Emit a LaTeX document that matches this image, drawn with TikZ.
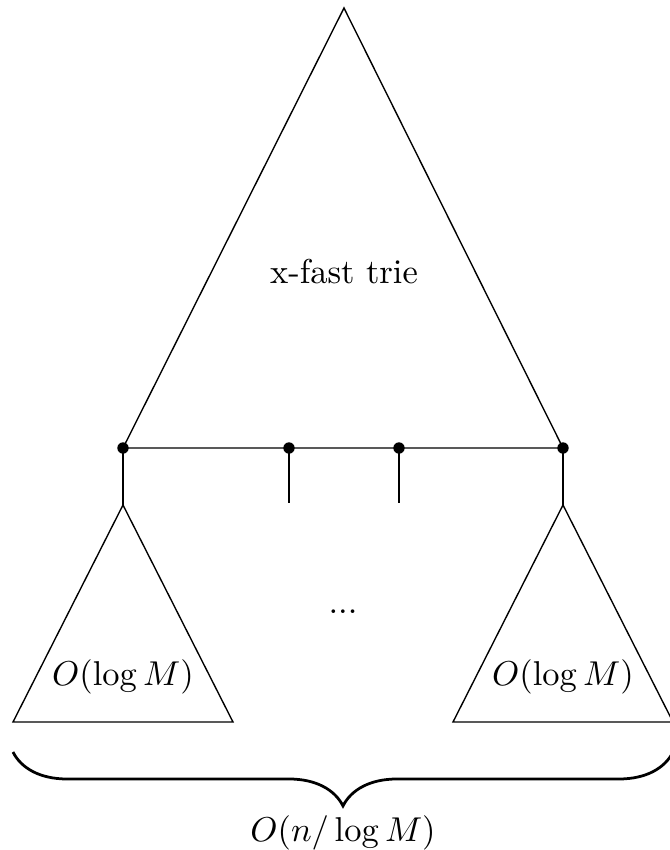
\documentclass[tikz,border=0pt]{standalone}
\usepackage{tikz}
\usetikzlibrary{positioning, decorations.pathreplacing, calc}

\begin{document}
\begin{tikzpicture}[
  x=0.0102cm, y=-0.0102cm,
  junction/.style={circle, fill, inner sep=0pt, minimum size=3.3pt},
  subtrie/.style={draw},
  bracestyle/.style={decorate, decoration={brace, mirror, amplitude=5.5mm}, thick}
]
  \useasboundingbox (0,0) rectangle (670,850);

  % top level trie
  \coordinate (apex) at (344,8);
  \node[junction] (j1) at (123,448) {};
  \node[junction] (j2) at (289,448) {};
  \node[junction] (j3) at (399,448) {};
  \node[junction] (j4) at (563,448) {};
  \draw (j1.center) -- (apex) -- (j4.center) -- cycle;
  \node (xfast) at (344,272) {x-fast trie};

  % links down to the buckets
  \coordinate (la) at (123,505);
  \coordinate (s2) at (289,503);
  \coordinate (s3) at (399,503);
  \coordinate (ra) at (563,505);
  \draw (j1.center) -- (la);
  \draw (j2.center) -- (s2);
  \draw (j3.center) -- (s3);
  \draw (j4.center) -- (ra);

  % buckets
  \draw[subtrie] (la) -- ++(-110,217) -- ++(220,0) -- cycle;
  \draw[subtrie] (ra) -- ++(-110,217) -- ++(220,0) -- cycle;
  \node (lcost) at (123,677) {$O(\log M)$};
  \node (rcost) at (563,677) {$O(\log M)$};
  \node (gap) at (343,612) {...};

  % number of buckets
  \coordinate (bl) at (13,752);
  \coordinate (br) at (673,752);
  \draw[bracestyle] (bl) -- (br);
  \node (total) at (343,833) {$O(n/\log M)$};
\end{tikzpicture}
\end{document}
